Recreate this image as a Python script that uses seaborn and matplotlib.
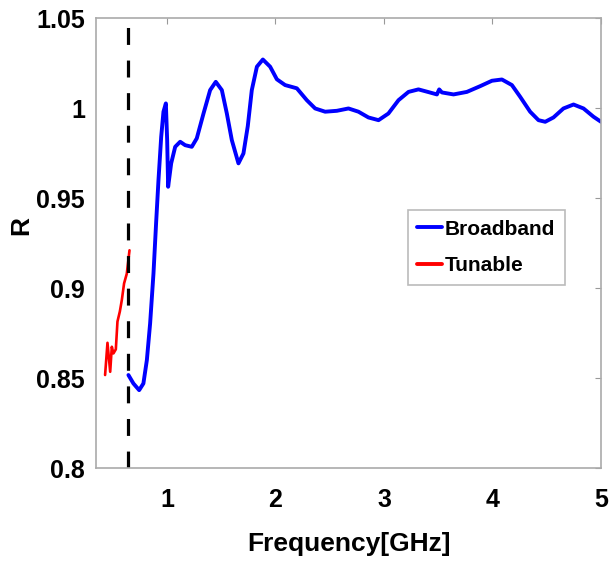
import numpy as np
import matplotlib
matplotlib.use("Agg")
import matplotlib.pyplot as plt
import seaborn as sns
import pandas as pd

# ------------------------------
# DATA
# ------------------------------
broad_f = [0.645, 0.691, 0.744, 0.783, 0.815, 0.845, 0.876, 0.90, 0.922, 0.947,
           0.968, 0.99, 1.002, 1.011, 1.039, 1.076, 1.122, 1.168, 1.229, 1.275,
           1.337, 1.398, 1.45, 1.506, 1.552, 1.598, 1.659, 1.705, 1.745, 1.782,
           1.829, 1.884, 1.951, 2.013, 2.089, 2.197, 2.289, 2.366, 2.458, 2.566,
           2.673, 2.765, 2.857, 2.95, 3.041, 3.134, 3.226, 3.318, 3.41, 3.488,
           3.509, 3.534, 3.641, 3.764, 3.887, 3.995, 4.087, 4.179, 4.255, 4.347,
           4.424, 4.486, 4.562, 4.654, 4.747, 4.839, 4.931, 5.0]
broad_r = [0.8517, 0.847, 0.8433, 0.847, 0.860, 0.8804, 0.9082, 0.936, 0.96, 0.984,
           0.998, 1.0026, 0.9822, 0.9563, 0.9693, 0.9785, 0.9813, 0.9794, 0.9785, 0.9832,
           0.997, 1.010, 1.0146, 1.010, 0.997, 0.9822, 0.9693, 0.9748, 0.990, 1.010,
           1.023, 1.027, 1.023, 1.016, 1.0128, 1.011, 1.0044, 0.9998, 0.998, 0.9985,
           0.9998, 0.998, 0.9948, 0.9933, 0.997, 1.0044, 1.009, 1.0104, 1.0089, 1.0076,
           1.0104, 1.0087, 1.0076, 1.009, 1.0122, 1.0152, 1.0159, 1.0128, 1.0063, 0.998,
           0.9933, 0.9924, 0.9948, 0.9998, 1.002, 0.9998, 0.9952, 0.9924]

tune_f = [0.43, 0.452, 0.477, 0.492, 0.507, 0.529, 0.544, 0.566, 0.584, 0.605, 0.63, 0.655]
tune_r = [0.8517, 0.8696, 0.8535, 0.8674, 0.8637, 0.866, 0.8814, 0.887, 0.8933, 0.9026, 0.908, 0.921]

cutoff_f = 0.64
y_ticks = [0.8, 0.85, 0.9, 0.95, 1.0, 1.05]
y_ticklabels = ['0.8', '0.85', '0.9', '0.95', '1', '1.05']
x_ticks = [1, 2, 3, 4, 5]

broad = pd.DataFrame({'f': broad_f, 'R': broad_r})
tune = pd.DataFrame({'f': tune_f, 'R': tune_r})

sns.set_style('white')
plt.rcParams['font.family'] = ['Liberation Sans', 'DejaVu Sans']
plt.rcParams['font.weight'] = 'bold'
plt.rcParams['text.color'] = 'black'
plt.rcParams['axes.labelcolor'] = 'black'

fig = plt.figure(figsize=(6.12, 5.66), dpi=100)
ax = fig.add_axes([0.157, 0.173, 0.825, 0.795])

sns.lineplot(data=broad, x='f', y='R', ax=ax, color='#0000ff', lw=2.8,
             sort=False, estimator=None, label='Broadband',
             solid_joinstyle='round', solid_capstyle='round')
sns.lineplot(data=tune, x='f', y='R', ax=ax, color='#ff0000', lw=1.9,
             sort=False, estimator=None, label='Tunable',
             solid_joinstyle='round', solid_capstyle='round')
ax.axvline(cutoff_f, color='black', lw=2.3, ls=(0, (5.3, 4.9)))

ax.set_xlim(0.347, 5)
ax.set_ylim(0.8, 1.05)
ax.set_xticks(x_ticks)
ax.set_xticklabels([str(t) for t in x_ticks])
ax.set_yticks(y_ticks)
ax.set_yticklabels(y_ticklabels)
ax.tick_params(direction='in', length=4, color='#999999', labelcolor='black',
               labelsize=18, top=True, right=True)
ax.tick_params(axis='x', pad=14)
ax.tick_params(axis='y', pad=8)
for lab in ax.get_xticklabels() + ax.get_yticklabels():
    lab.set_fontweight('bold')
for s in ax.spines.values():
    s.set_color('#aaaaaa')
    s.set_linewidth(1.2)

ax.set_xlabel('Frequency[GHz]', fontsize=19, fontweight='bold', labelpad=15)
ax.set_ylabel('R', fontsize=19, fontweight='bold')
ax.yaxis.set_label_coords(-0.125, 0.54)

leg = ax.legend(loc='upper left', bbox_to_anchor=(0.618, 0.573), fontsize=15,
                handlelength=1.2, handletextpad=0.12, borderpad=0.45,
                labelspacing=0.85, frameon=True, fancybox=False, borderaxespad=0)
leg.get_frame().set_edgecolor('#aaaaaa')
leg.get_frame().set_linewidth(1.2)
for t in leg.get_texts():
    t.set_fontweight('bold')
    t.set_color('black')
for h in leg.get_lines():
    h.set_linewidth(2.8)

fig.savefig('out.png', dpi=100)
